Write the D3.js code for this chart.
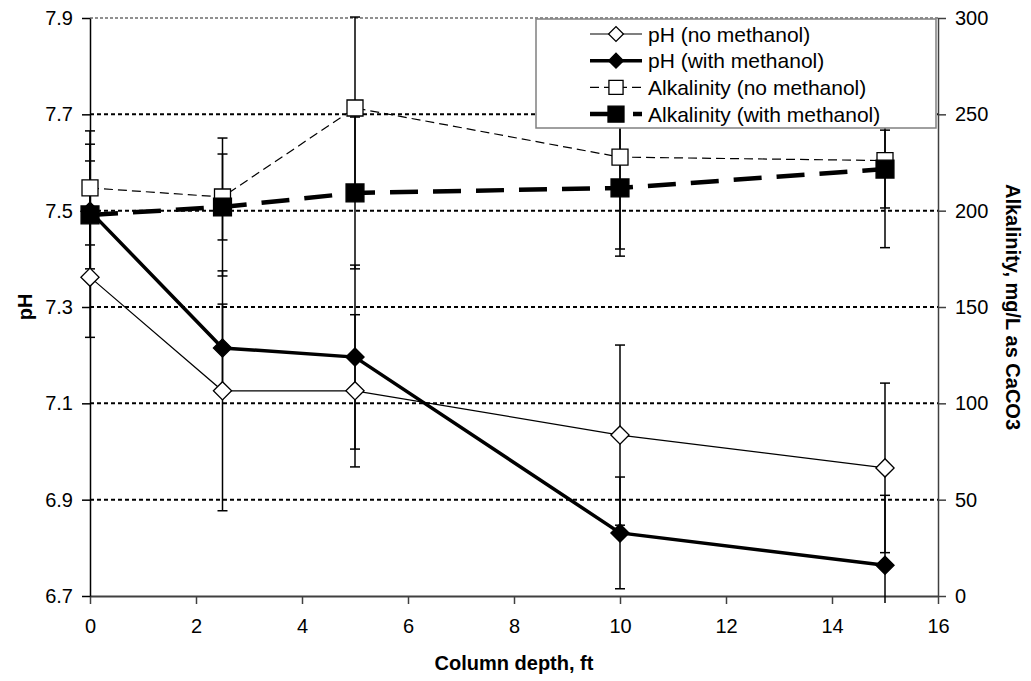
<!DOCTYPE html>
<html>
<head>
<meta charset="utf-8">
<script src="https://cdn.jsdelivr.net/npm/d3@7"></script>
<style>
    body { margin: 0; background: #fff; }
    svg { font-family: "Liberation Sans", Arial, sans-serif; }
</style>
</head>
<body>
<div id="chart"></div>
<script>
"use strict";
// values
const depth = [0, 2.5, 5, 10, 15];
const phNoMeth = [7.362, 7.126, 7.126, 7.034, 6.966];
const phNoMethErr = [0.125, 0.249, 0.158, 0.187, 0.176];
const phMeth = [7.499, 7.215, 7.196, 6.831, 6.764];
const phMethErr = [0.139, 0.091, 0.191, 0.116, 0.145];
const alkNoMeth = [211.8, 207.1, 253.3, 227.8, 226.0];
const alkNoMethErr = [29.6, 22.3, 47.2, 51.4, 45.2];
const alkMeth = [197.8, 201.9, 209.2, 211.8, 221.6];
const alkMethErr = [28.0, 35.8, 39.4, 31.7, 20.2];

const xTicks = [0, 2, 4, 6, 8, 10, 12, 14, 16];
const phTicks = [6.7, 6.9, 7.1, 7.3, 7.5, 7.7, 7.9];
const alkTicks = [0, 50, 100, 150, 200, 250, 300];

(function(){
    const measurements = {
        width: 1031,
        height: 681,
        left: 90,
        right: 938,
        top: 18,
        bottom: 596
    }

    let svg = d3.select("#chart").append("svg")
        .attr("width", measurements.width)
        .attr("height", measurements.height)

    let scaleX = d3.scaleLinear().domain([0, 16]).range([measurements.left, measurements.right])
    let scalePH = d3.scaleLinear().domain([6.7, 7.9]).range([measurements.bottom, measurements.top])
    let scaleAlk = d3.scaleLinear().domain([0, 300]).range([measurements.bottom, measurements.top])

    // series styles
    const series = [
        { name: "pH (no methanol)", values: phNoMeth, err: phNoMethErr, scale: scalePH,
          width: 1.2, dash: null, shape: "diamond", fill: "#fff" },
        { name: "pH (with methanol)", values: phMeth, err: phMethErr, scale: scalePH,
          width: 3.5, dash: null, shape: "diamond", fill: "#000" },
        { name: "Alkalinity (no methanol)", values: alkNoMeth, err: alkNoMethErr, scale: scaleAlk,
          width: 1.2, dash: "9,5", shape: "square", fill: "#fff" },
        { name: "Alkalinity (with methanol)", values: alkMeth, err: alkMethErr, scale: scaleAlk,
          width: 4.5, dash: "28,15", shape: "bigsquare", fill: "#000" }
    ]

    drawGrid()
    drawAxes()
    series.forEach(drawLine)
    series.forEach(drawErrors)
    series.forEach(drawMarkers)
    drawLegend()

    function markerPath(shape, size) {
        if (shape == "diamond") return d3.symbol().type(d3.symbolSquare).size(size || 165)()
        if (shape == "square") return d3.symbol().type(d3.symbolSquare).size(size || 256)()
        return d3.symbol().type(d3.symbolSquare).size(size || 320)()
    }

    function drawGrid() {
        svg.append("g").selectAll("line")
            .data(phTicks.slice(1))
            .enter().append("line")
            .attr("x1", measurements.left)
            .attr("x2", measurements.right)
            .attr("y1", d => scalePH(d))
            .attr("y2", d => scalePH(d))
            .attr("stroke", d => d == 7.9 ? "#909090" : "#000")
            .attr("stroke-width", 2)
            .attr("stroke-dasharray", d => d == 7.9 ? "3,2" : "4,3")
    }

    function drawAxes() {
        let xAxis = d3.axisBottom(scaleX).tickValues(xTicks).tickSize(8).tickSizeOuter(0).tickPadding(15)
        let yAxis = d3.axisLeft(scalePH).tickValues(phTicks).tickSize(8).tickSizeOuter(0)
            .tickPadding(9).tickFormat(d3.format(".1f"))
        let y2Axis = d3.axisRight(scaleAlk).tickValues(alkTicks).tickSize(8).tickSizeOuter(0).tickPadding(9)

        let gx = svg.append("g").attr("transform", "translate(0," + measurements.bottom + ")").call(xAxis)
        let gy = svg.append("g").attr("transform", "translate(" + measurements.left + ",0)").call(yAxis)
        let gy2 = svg.append("g").attr("transform", "translate(" + measurements.right + ",0)").call(y2Axis)

        gx.select(".domain").attr("stroke", "#404040").attr("stroke-width", 2)
        gx.selectAll(".tick line").attr("stroke", "#404040").attr("stroke-width", 1.5)
        gy.selectAll(".domain, .tick line").attr("stroke", "#000").attr("stroke-width", 1.5)
        gy2.selectAll(".domain, .tick line").attr("stroke", "#404040").attr("stroke-width", 1.5)
        svg.selectAll(".tick text").attr("font-size", 20).attr("fill", "#000")
            .attr("font-family", "Liberation Sans, Arial, sans-serif")

        svg.append("text")
            .attr("x", (measurements.left + measurements.right) / 2)
            .attr("y", 670)
            .attr("text-anchor", "middle")
            .attr("font-size", 20)
            .attr("font-weight", "bold")
            .text("Column depth, ft")

        svg.append("text")
            .attr("transform", "translate(32," + (measurements.top + measurements.bottom) / 2 + ") rotate(-90)")
            .attr("text-anchor", "middle")
            .attr("font-size", 20)
            .attr("font-weight", "bold")
            .text("pH")

        svg.append("text")
            .attr("transform", "translate(1006," + (measurements.top + measurements.bottom) / 2 + ") rotate(90)")
            .attr("text-anchor", "middle")
            .attr("font-size", 20)
            .attr("font-weight", "bold")
            .text("Alkalinity, mg/L as CaCO3")
    }

    function drawLine(s) {
        let line = d3.line()
            .x((d, i) => scaleX(depth[i]))
            .y(d => s.scale(d))
        svg.append("path")
            .datum(s.values)
            .attr("d", line)
            .attr("fill", "none")
            .attr("stroke", "#000")
            .attr("stroke-width", s.width)
            .attr("stroke-dasharray", s.dash)
    }

    function drawErrors(s) {
        let g = svg.append("g").attr("stroke", "#000").attr("stroke-width", 1.5)
        s.values.forEach(function(v, i) {
            let x = scaleX(depth[i])
            let yHi = s.scale(v + s.err[i])
            let yLo = s.scale(v - s.err[i])
            let lo = Math.min(yLo, 603)
            g.append("line").attr("x1", x).attr("x2", x).attr("y1", yHi).attr("y2", lo)
            g.append("line").attr("x1", x - 5).attr("x2", x + 5).attr("y1", yHi).attr("y2", yHi)
            if (yLo < 603) {
                g.append("line").attr("x1", x - 5).attr("x2", x + 5).attr("y1", yLo).attr("y2", yLo)
            }
        })
    }

    function drawMarkers(s) {
        svg.append("g").selectAll("path")
            .data(s.values)
            .enter().append("path")
            .attr("d", markerPath(s.shape))
            .attr("transform", (d, i) => "translate(" + scaleX(depth[i]) + "," + s.scale(d) + ")" +
                (s.shape == "diamond" ? " rotate(45)" : ""))
            .attr("fill", s.fill)
            .attr("stroke", "#000")
            .attr("stroke-width", 1.3)
    }

    function drawLegend() {
        let legend = svg.append("g")
        legend.append("rect")
            .attr("x", 536).attr("y", 19)
            .attr("width", 400).attr("height", 109)
            .attr("fill", "#fff")
            .attr("stroke", "#808080")
            .attr("stroke-width", 1.5)

        let rows = legend.selectAll(".legend")
            .data(series)
            .enter().append("g")
            .attr("class", "legend")
            .attr("transform", (d, i) => "translate(0," + (34 + i * 26.7) + ")")

        rows.append("line")
            .attr("x1", 590).attr("x2", 642)
            .attr("stroke", "#000")
            .attr("stroke-width", d => d.width)
            .attr("stroke-dasharray", d => d.dash)

        rows.append("path")
            .attr("d", d => markerPath(d.shape, d.shape == "diamond" ? 110 : d.shape == "square" ? 200 : 256))
            .attr("transform", d => "translate(616,0)" + (d.shape == "diamond" ? " rotate(45)" : ""))
            .attr("fill", d => d.fill)
            .attr("stroke", "#000")
            .attr("stroke-width", 1.3)

        rows.append("text")
            .attr("x", 648)
            .attr("dy", "0.36em")
            .attr("font-size", 21)
            .text(d => d.name)
    }
})()
</script>
</body>
</html>
